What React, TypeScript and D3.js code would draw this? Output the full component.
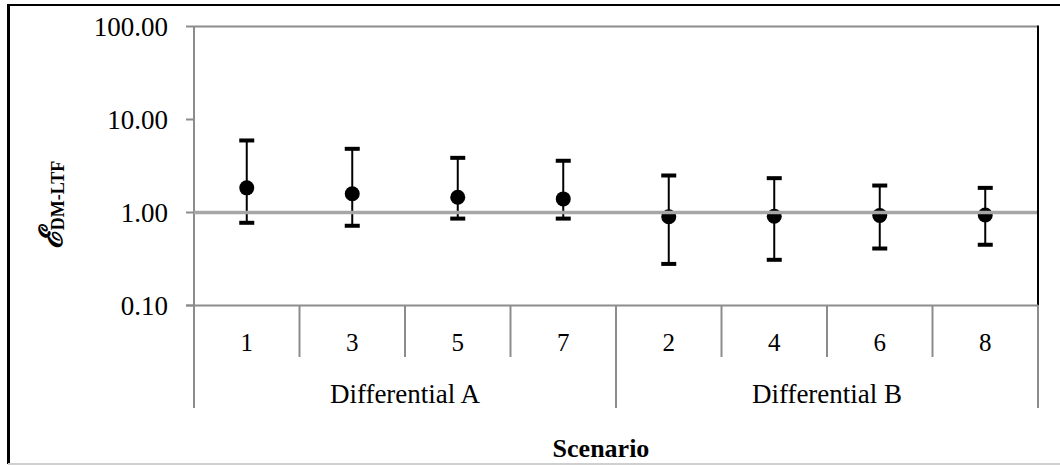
import React from "react";
import * as d3 from "d3";

const categories = ["1", "3", "5", "7", "2", "4", "6", "8"];
const groups = ["Differential A", "Differential B"];
const groupOf = [0, 0, 0, 0, 1, 1, 1, 1];
const meanValues = [1.84, 1.59, 1.46, 1.4, 0.9, 0.91, 0.93, 0.94];
const upperValues = [5.95, 4.84, 3.87, 3.6, 2.5, 2.34, 1.95, 1.84];
const lowerValues = [0.775, 0.72, 0.86, 0.86, 0.28, 0.31, 0.41, 0.45];
const yTicks = [0.1, 1, 10, 100];
const refValue = 1;

const W = 1060;
const H = 465;
const plotLeft = 194;
const plotRight = 1038;
const plotTop = 26.5;
const plotBottom = 305.5;
const catRowBottom = 357;
const groupRowBottom = 408;
const FONT = "Liberation Serif, Times New Roman, DejaVu Serif, serif";
const AXIS_GRAY = "#8c8c8c";

export default function App() {
  const y = d3.scaleLog().domain([0.1, 100]).range([plotBottom, plotTop]);
  const x = d3.scaleBand().domain(categories).range([plotLeft, plotRight]).padding(0);
  const bw = x.bandwidth();
  const fmt = d3.format(".2f");

  const groupExtents = groups.map((g, gi) => {
    const cats = categories.filter((_, i) => groupOf[i] === gi);
    const x0 = x(cats[0])!;
    const x1 = x(cats[cats.length - 1])! + bw;
    return { name: g, x0, x1 };
  });

  const txt = { fontFamily: FONT };
  const labX = 62;
  const labY = 205;

  return (
    <svg
      width={W}
      height={H}
      style={{ position: "absolute", left: 0, top: 0, background: "#fff", fontFamily: FONT }}
    >
      {/* outer frame */}
      <line x1={7} x2={W} y1={5} y2={5} stroke="#000" strokeWidth={2} />
      <line x1={8.5} x2={8.5} y1={4} y2={464} stroke="#000" strokeWidth={3} />
      <line x1={8} x2={W} y1={464} y2={464} stroke="#d0d0d0" strokeWidth={2} />

      {/* plot borders */}
      <line x1={plotLeft} x2={plotRight} y1={plotTop} y2={plotTop} stroke={AXIS_GRAY} strokeWidth={2} />
      <line x1={plotRight} x2={plotRight} y1={plotTop - 1} y2={plotBottom} stroke="#000" strokeWidth={2} />
      <line x1={plotLeft} x2={plotLeft} y1={plotTop} y2={groupRowBottom} stroke={AXIS_GRAY} strokeWidth={2} />
      <line x1={plotLeft - 8} x2={plotRight} y1={plotBottom} y2={plotBottom} stroke={AXIS_GRAY} strokeWidth={2} />

      {/* y ticks */}
      {yTicks.map((t) => (
        <g key={t}>
          <line x1={plotLeft - 8} x2={plotLeft} y1={y(t)} y2={y(t)} stroke={AXIS_GRAY} strokeWidth={2} />
          <text
            x={168}
            y={y(t)}
            textAnchor="end"
            dominantBaseline="central"
            fontSize={27}
            fill="#000"
            style={txt}
          >
            {fmt(t)}
          </text>
        </g>
      ))}

      {/* category separators */}
      {categories.map((c, i) => (
        <line
          key={"sep" + c}
          x1={x(c)! + bw}
          x2={x(c)! + bw}
          y1={plotBottom}
          y2={i === categories.length - 1 || groupOf[i] !== groupOf[i + 1] ? groupRowBottom : catRowBottom}
          stroke={AXIS_GRAY}
          strokeWidth={2}
        />
      ))}

      {/* category labels */}
      {categories.map((c) => (
        <text
          key={"lab" + c}
          x={x(c)! + bw / 2}
          y={342}
          textAnchor="middle"
          dominantBaseline="central"
          fontSize={25}
          fill="#000"
          style={txt}
        >
          {c}
        </text>
      ))}

      {/* group labels */}
      {groupExtents.map((g) => (
        <text
          key={g.name}
          x={(g.x0 + g.x1) / 2}
          y={394}
          textAnchor="middle"
          dominantBaseline="central"
          fontSize={27}
          fill="#000"
          style={txt}
        >
          {g.name}
        </text>
      ))}

      {/* error bars and points */}
      {categories.map((c, i) => {
        const cx = x(c)! + bw / 2;
        return (
          <g key={"pt" + c}>
            <line x1={cx} x2={cx} y1={y(upperValues[i])} y2={y(lowerValues[i])} stroke="#000" strokeWidth={2} />
            <line x1={cx - 7.5} x2={cx + 7.5} y1={y(upperValues[i])} y2={y(upperValues[i])} stroke="#000" strokeWidth={4} />
            <line x1={cx - 7.5} x2={cx + 7.5} y1={y(lowerValues[i])} y2={y(lowerValues[i])} stroke="#000" strokeWidth={4} />
            <circle cx={cx} cy={y(meanValues[i])} r={7.5} fill="#000" />
          </g>
        );
      })}

      {/* reference line at 1 */}
      <line
        x1={plotLeft}
        x2={plotRight - 1}
        y1={y(refValue)}
        y2={y(refValue)}
        stroke="#a6a6a6"
        strokeWidth={3.5}
      />

      {/* y axis title */}
      <g
        style={{
          transform: `translate(${labX}px, ${labY}px) rotate(-90deg)`,
          transformOrigin: "0px 0px",
        }}
      >
        <text
          x={0}
          y={0}
          textAnchor="middle"
          fill="#000"
          fontWeight="bold"
          fontSize={18}
          style={txt}
        >
          <tspan fontSize={32} fontStyle="italic">ℰ</tspan>
          <tspan dy={2}>DM-LTF</tspan>
        </text>
      </g>

      {/* x axis title */}
      <text
        x={601}
        y={448}
        textAnchor="middle"
        dominantBaseline="central"
        fontSize={26}
        fontWeight="bold"
        fill="#000"
        style={txt}
      >
        Scenario
      </text>
    </svg>
  );
}
